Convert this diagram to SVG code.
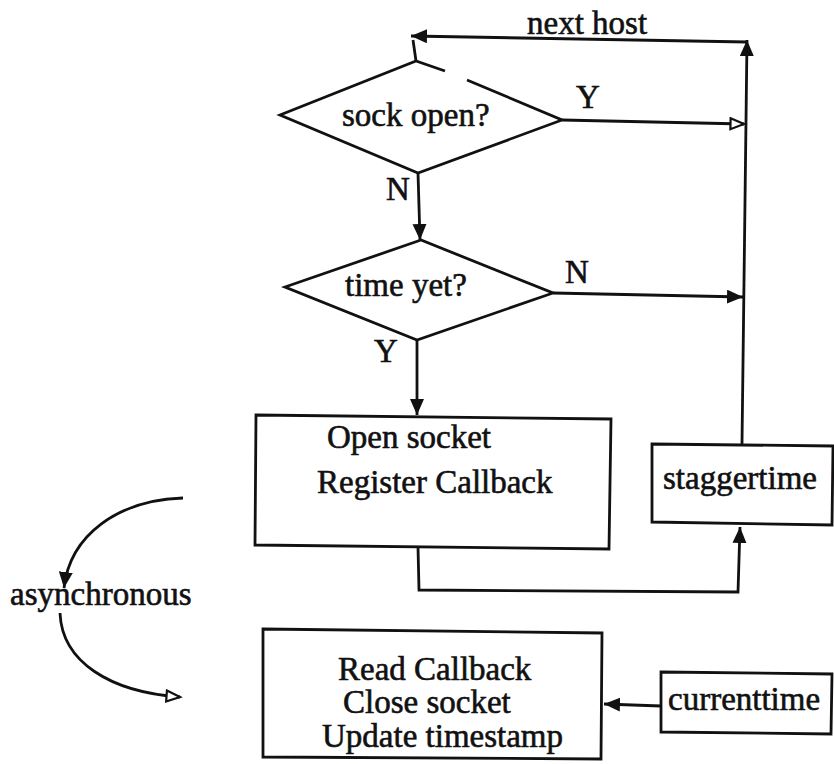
<svg xmlns="http://www.w3.org/2000/svg" width="834" height="764" viewBox="0 0 834 764">
  <style>
    .shape { fill: none; stroke: #111; stroke-width: 2.8; stroke-linejoin: miter; }
    .wire { fill: none; stroke: #111; stroke-width: 2.8; }
    .lbl { font-family: "Liberation Serif", "Times New Roman", serif; font-size: 33px; fill: #111; stroke: #111; stroke-width: 0.6; }
  </style>
  <defs>
    <marker id="solid" markerUnits="userSpaceOnUse" markerWidth="18" markerHeight="16" refX="16" refY="7" orient="auto">
      <path d="M0,0 L16,7 L0,14 Z" fill="#111"/>
    </marker>
    <marker id="hollow" markerUnits="userSpaceOnUse" markerWidth="18" markerHeight="16" refX="15" refY="7" orient="auto">
      <path d="M1.5,1.5 L15,7 L1.5,12.5 Z" fill="#fff" stroke="#111" stroke-width="2.2"/>
    </marker>
  </defs>

  <rect width="834" height="764" fill="#fff"/>

  <!-- connectors -->
  <g id="connectors">
    <!-- loop back to the next host -->
    <path class="wire" d="M742,444 L747,40" marker-end="url(#solid)"/>
    <path class="wire" d="M747,42 L411,36" marker-end="url(#solid)"/>
    <path class="wire" d="M413,40 L416,61"/>
    <!-- sock open? Y -->
    <path class="wire" d="M562,120 L744,124" marker-end="url(#hollow)"/>
    <!-- sock open? N -->
    <path class="wire" d="M418,173 L420,240" marker-end="url(#solid)"/>
    <!-- time yet? N -->
    <path class="wire" d="M553,293 L743,297" marker-end="url(#solid)"/>
    <!-- time yet? Y -->
    <path class="wire" d="M417,340 L417,415" marker-end="url(#solid)"/>
    <!-- open socket to staggertime -->
    <path class="wire" d="M418,547 L419,590 L738,592 L740,527" marker-end="url(#solid)"/>
    <!-- currenttime into the callback -->
    <path class="wire" d="M661,706 L604,704" marker-end="url(#solid)"/>
    <!-- asynchronous hand-off -->
    <path class="wire" d="M183,498 C118,500 70,535 64,588" marker-end="url(#solid)"/>
    <path class="wire" d="M60,613 C62,662 110,692 180,697" marker-end="url(#hollow)"/>
  </g>

  <g id="next-host-label">
    <text class="lbl" x="527" y="34">next host</text>
  </g>

  <g id="sock-open">
    <path class="shape" d="M445,71 L416,61 L280,115 L418,173 L562,120 L467,80"/>
    <text class="lbl" x="342" y="126">sock open?</text>
    <text class="lbl" x="576" y="108">Y</text>
    <text class="lbl" x="386" y="200">N</text>
  </g>

  <g id="time-yet">
    <path class="shape" d="M421,240 L285,287 L417,340 L553,293 Z"/>
    <text class="lbl" x="345" y="296">time yet?</text>
    <text class="lbl" x="565" y="283">N</text>
    <text class="lbl" x="374" y="362">Y</text>
  </g>

  <g id="open-socket">
    <path class="shape" d="M256,415 L611,419 L609,549 L255,545 Z"/>
    <text class="lbl" x="327" y="448">Open socket</text>
    <text class="lbl" x="317" y="493">Register Callback</text>
  </g>

  <g id="staggertime">
    <path class="shape" d="M652,444 L833,446 L832,525 L652,522 Z"/>
    <text class="lbl" x="663" y="489">staggertime</text>
  </g>

  <g id="asynchronous">
    <text class="lbl" x="10" y="605">asynchronous</text>
  </g>

  <g id="read-callback">
    <path class="shape" d="M263,629 L602,633 L601,759 L263,757 Z"/>
    <text class="lbl" x="338" y="680">Read Callback</text>
    <text class="lbl" x="343" y="713">Close socket</text>
    <text class="lbl" x="322" y="747">Update timestamp</text>
  </g>

  <g id="currenttime">
    <path class="shape" d="M661,672 L832,674 L831,734 L661,732 Z"/>
    <text class="lbl" x="668" y="710">currenttime</text>
  </g>
</svg>
